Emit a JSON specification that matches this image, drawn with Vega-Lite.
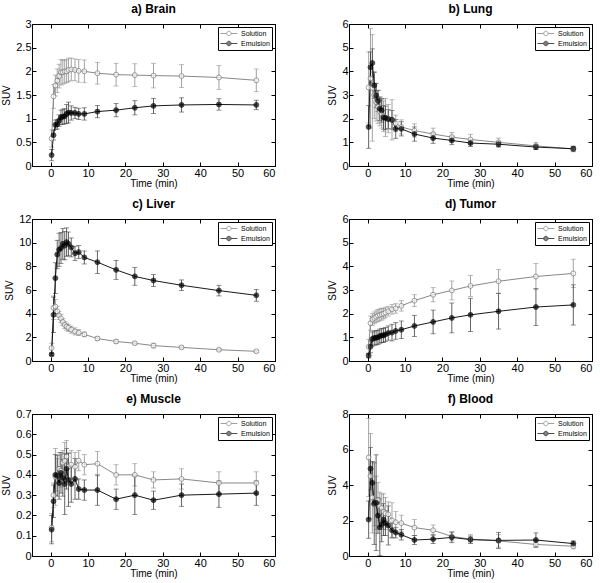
{
"$schema":"https://vega.github.io/schema/vega-lite/v6.json",
"padding":{"left":1,"top":2,"right":5,"bottom":2},
"background":"white",
"datasets":{"d":[
{"p":"a","s":"Solution","t":0.25,"y":0.58,"e":0.18},{"p":"a","s":"Solution","t":0.75,"y":1.47,"e":0.25},{"p":"a","s":"Solution","t":1.25,"y":1.7,"e":0.22},{"p":"a","s":"Solution","t":1.75,"y":1.8,"e":0.25},{"p":"a","s":"Solution","t":2.25,"y":1.9,"e":0.25},{"p":"a","s":"Solution","t":2.75,"y":1.98,"e":0.27},{"p":"a","s":"Solution","t":3.25,"y":1.98,"e":0.25},{"p":"a","s":"Solution","t":3.75,"y":2.0,"e":0.25},{"p":"a","s":"Solution","t":4.25,"y":2.0,"e":0.24},{"p":"a","s":"Solution","t":4.75,"y":2.03,"e":0.25},{"p":"a","s":"Solution","t":5.5,"y":2.04,"e":0.24},{"p":"a","s":"Solution","t":6.5,"y":2.03,"e":0.23},{"p":"a","s":"Solution","t":7.5,"y":2.01,"e":0.24},{"p":"a","s":"Solution","t":9,"y":2.0,"e":0.24},{"p":"a","s":"Solution","t":12.5,"y":1.96,"e":0.23},{"p":"a","s":"Solution","t":17.5,"y":1.93,"e":0.24},{"p":"a","s":"Solution","t":22.5,"y":1.92,"e":0.24},{"p":"a","s":"Solution","t":27.5,"y":1.91,"e":0.26},{"p":"a","s":"Solution","t":35,"y":1.9,"e":0.24},{"p":"a","s":"Solution","t":45,"y":1.87,"e":0.25},{"p":"a","s":"Solution","t":55,"y":1.81,"e":0.24},
{"p":"a","s":"Emulsion","t":0.25,"y":0.23,"e":0.12},{"p":"a","s":"Emulsion","t":0.75,"y":0.65,"e":0.1},{"p":"a","s":"Emulsion","t":1.25,"y":0.87,"e":0.1},{"p":"a","s":"Emulsion","t":1.75,"y":0.88,"e":0.1},{"p":"a","s":"Emulsion","t":2.25,"y":0.96,"e":0.12},{"p":"a","s":"Emulsion","t":2.75,"y":1.03,"e":0.15},{"p":"a","s":"Emulsion","t":3.25,"y":1.04,"e":0.16},{"p":"a","s":"Emulsion","t":3.75,"y":1.05,"e":0.16},{"p":"a","s":"Emulsion","t":4.25,"y":1.1,"e":0.2},{"p":"a","s":"Emulsion","t":4.75,"y":1.13,"e":0.22},{"p":"a","s":"Emulsion","t":5.5,"y":1.12,"e":0.15},{"p":"a","s":"Emulsion","t":6.5,"y":1.12,"e":0.12},{"p":"a","s":"Emulsion","t":7.5,"y":1.1,"e":0.12},{"p":"a","s":"Emulsion","t":9,"y":1.1,"e":0.13},{"p":"a","s":"Emulsion","t":12.5,"y":1.15,"e":0.13},{"p":"a","s":"Emulsion","t":17.5,"y":1.18,"e":0.14},{"p":"a","s":"Emulsion","t":22.5,"y":1.23,"e":0.15},{"p":"a","s":"Emulsion","t":27.5,"y":1.27,"e":0.16},{"p":"a","s":"Emulsion","t":35,"y":1.29,"e":0.15},{"p":"a","s":"Emulsion","t":45,"y":1.3,"e":0.12},{"p":"a","s":"Emulsion","t":55,"y":1.29,"e":0.1},
{"p":"b","s":"Solution","t":0.25,"y":3.32,"e":1.5},{"p":"b","s":"Solution","t":0.75,"y":3.7,"e":2.1},{"p":"b","s":"Solution","t":1.25,"y":3.3,"e":2.25},{"p":"b","s":"Solution","t":1.75,"y":3.0,"e":1.0},{"p":"b","s":"Solution","t":2.25,"y":2.7,"e":0.8},{"p":"b","s":"Solution","t":2.75,"y":2.5,"e":0.7},{"p":"b","s":"Solution","t":3.25,"y":2.3,"e":0.6},{"p":"b","s":"Solution","t":3.75,"y":2.2,"e":0.6},{"p":"b","s":"Solution","t":4.25,"y":2.1,"e":0.65},{"p":"b","s":"Solution","t":4.75,"y":2.05,"e":0.8},{"p":"b","s":"Solution","t":5.5,"y":2.0,"e":0.6},{"p":"b","s":"Solution","t":6.5,"y":1.95,"e":0.85},{"p":"b","s":"Solution","t":7.5,"y":1.8,"e":0.35},{"p":"b","s":"Solution","t":9,"y":1.65,"e":0.3},{"p":"b","s":"Solution","t":12.5,"y":1.5,"e":0.28},{"p":"b","s":"Solution","t":17.5,"y":1.35,"e":0.25},{"p":"b","s":"Solution","t":22.5,"y":1.22,"e":0.2},{"p":"b","s":"Solution","t":27.5,"y":1.12,"e":0.22},{"p":"b","s":"Solution","t":35,"y":1.0,"e":0.18},{"p":"b","s":"Solution","t":45,"y":0.85,"e":0.15},{"p":"b","s":"Solution","t":55,"y":0.72,"e":0.12},
{"p":"b","s":"Emulsion","t":0.25,"y":1.65,"e":0.9},{"p":"b","s":"Emulsion","t":0.75,"y":4.17,"e":0.65},{"p":"b","s":"Emulsion","t":1.25,"y":4.35,"e":0.6},{"p":"b","s":"Emulsion","t":1.75,"y":3.4,"e":0.55},{"p":"b","s":"Emulsion","t":2.25,"y":2.98,"e":0.5},{"p":"b","s":"Emulsion","t":2.75,"y":2.75,"e":0.45},{"p":"b","s":"Emulsion","t":3.25,"y":2.42,"e":0.5},{"p":"b","s":"Emulsion","t":3.75,"y":2.35,"e":0.5},{"p":"b","s":"Emulsion","t":4.25,"y":2.05,"e":0.5},{"p":"b","s":"Emulsion","t":4.75,"y":2.03,"e":0.5},{"p":"b","s":"Emulsion","t":5.5,"y":1.98,"e":0.4},{"p":"b","s":"Emulsion","t":6.5,"y":1.95,"e":0.4},{"p":"b","s":"Emulsion","t":7.5,"y":1.57,"e":0.4},{"p":"b","s":"Emulsion","t":9,"y":1.57,"e":0.3},{"p":"b","s":"Emulsion","t":12.5,"y":1.35,"e":0.3},{"p":"b","s":"Emulsion","t":17.5,"y":1.18,"e":0.22},{"p":"b","s":"Emulsion","t":22.5,"y":1.08,"e":0.18},{"p":"b","s":"Emulsion","t":27.5,"y":0.97,"e":0.15},{"p":"b","s":"Emulsion","t":35,"y":0.92,"e":0.12},{"p":"b","s":"Emulsion","t":45,"y":0.8,"e":0.1},{"p":"b","s":"Emulsion","t":55,"y":0.73,"e":0.1},
{"p":"c","s":"Solution","t":0.25,"y":1.1,"e":0.4},{"p":"c","s":"Solution","t":0.75,"y":4.5,"e":1.0},{"p":"c","s":"Solution","t":1.25,"y":4.6,"e":0.6},{"p":"c","s":"Solution","t":1.75,"y":4.2,"e":0.4},{"p":"c","s":"Solution","t":2.25,"y":3.85,"e":0.35},{"p":"c","s":"Solution","t":2.75,"y":3.6,"e":0.35},{"p":"c","s":"Solution","t":3.25,"y":3.3,"e":0.3},{"p":"c","s":"Solution","t":3.75,"y":3.05,"e":0.3},{"p":"c","s":"Solution","t":4.25,"y":2.9,"e":0.3},{"p":"c","s":"Solution","t":4.75,"y":2.8,"e":0.3},{"p":"c","s":"Solution","t":5.5,"y":2.65,"e":0.3},{"p":"c","s":"Solution","t":6.5,"y":2.5,"e":0.3},{"p":"c","s":"Solution","t":7.5,"y":2.4,"e":0.25},{"p":"c","s":"Solution","t":9,"y":2.25,"e":0.2},{"p":"c","s":"Solution","t":12.5,"y":1.9,"e":0.15},{"p":"c","s":"Solution","t":17.5,"y":1.65,"e":0.15},{"p":"c","s":"Solution","t":22.5,"y":1.5,"e":0.12},{"p":"c","s":"Solution","t":27.5,"y":1.3,"e":0.2},{"p":"c","s":"Solution","t":35,"y":1.15,"e":0.12},{"p":"c","s":"Solution","t":45,"y":0.95,"e":0.1},{"p":"c","s":"Solution","t":55,"y":0.82,"e":0.1},
{"p":"c","s":"Emulsion","t":0.25,"y":0.55,"e":0.1},{"p":"c","s":"Emulsion","t":0.75,"y":3.9,"e":1.5},{"p":"c","s":"Emulsion","t":1.25,"y":7.0,"e":1.3},{"p":"c","s":"Emulsion","t":1.75,"y":9.0,"e":1.2},{"p":"c","s":"Emulsion","t":2.25,"y":9.4,"e":1.4},{"p":"c","s":"Emulsion","t":2.75,"y":9.55,"e":1.3},{"p":"c","s":"Emulsion","t":3.25,"y":9.9,"e":1.3},{"p":"c","s":"Emulsion","t":3.75,"y":9.75,"e":1.2},{"p":"c","s":"Emulsion","t":4.25,"y":10.05,"e":1.2},{"p":"c","s":"Emulsion","t":4.75,"y":9.9,"e":1.0},{"p":"c","s":"Emulsion","t":5.5,"y":9.6,"e":0.8},{"p":"c","s":"Emulsion","t":6.5,"y":9.1,"e":0.6},{"p":"c","s":"Emulsion","t":7.5,"y":9.2,"e":0.55},{"p":"c","s":"Emulsion","t":9,"y":8.75,"e":0.55},{"p":"c","s":"Emulsion","t":12.5,"y":8.35,"e":0.95},{"p":"c","s":"Emulsion","t":17.5,"y":7.7,"e":0.8},{"p":"c","s":"Emulsion","t":22.5,"y":7.15,"e":0.75},{"p":"c","s":"Emulsion","t":27.5,"y":6.8,"e":0.5},{"p":"c","s":"Emulsion","t":35,"y":6.4,"e":0.45},{"p":"c","s":"Emulsion","t":45,"y":5.95,"e":0.45},{"p":"c","s":"Emulsion","t":55,"y":5.55,"e":0.5},
{"p":"d","s":"Solution","t":0.25,"y":0.6,"e":0.3},{"p":"d","s":"Solution","t":0.75,"y":1.6,"e":0.3},{"p":"d","s":"Solution","t":1.25,"y":1.75,"e":0.25},{"p":"d","s":"Solution","t":1.75,"y":1.82,"e":0.25},{"p":"d","s":"Solution","t":2.25,"y":1.87,"e":0.25},{"p":"d","s":"Solution","t":2.75,"y":1.92,"e":0.25},{"p":"d","s":"Solution","t":3.25,"y":1.95,"e":0.25},{"p":"d","s":"Solution","t":3.75,"y":1.98,"e":0.25},{"p":"d","s":"Solution","t":4.25,"y":2.0,"e":0.22},{"p":"d","s":"Solution","t":4.75,"y":2.05,"e":0.22},{"p":"d","s":"Solution","t":5.5,"y":2.1,"e":0.2},{"p":"d","s":"Solution","t":6.5,"y":2.18,"e":0.2},{"p":"d","s":"Solution","t":7.5,"y":2.22,"e":0.2},{"p":"d","s":"Solution","t":9,"y":2.33,"e":0.22},{"p":"d","s":"Solution","t":12.5,"y":2.55,"e":0.25},{"p":"d","s":"Solution","t":17.5,"y":2.8,"e":0.3},{"p":"d","s":"Solution","t":22.5,"y":2.98,"e":0.4},{"p":"d","s":"Solution","t":27.5,"y":3.17,"e":0.45},{"p":"d","s":"Solution","t":35,"y":3.37,"e":0.5},{"p":"d","s":"Solution","t":45,"y":3.57,"e":0.55},{"p":"d","s":"Solution","t":55,"y":3.7,"e":0.6},
{"p":"d","s":"Emulsion","t":0.25,"y":0.23,"e":0.1},{"p":"d","s":"Emulsion","t":0.75,"y":0.6,"e":0.25},{"p":"d","s":"Emulsion","t":1.25,"y":0.93,"e":0.3},{"p":"d","s":"Emulsion","t":1.75,"y":0.97,"e":0.3},{"p":"d","s":"Emulsion","t":2.25,"y":0.98,"e":0.3},{"p":"d","s":"Emulsion","t":2.75,"y":1.0,"e":0.3},{"p":"d","s":"Emulsion","t":3.25,"y":1.05,"e":0.3},{"p":"d","s":"Emulsion","t":3.75,"y":1.08,"e":0.3},{"p":"d","s":"Emulsion","t":4.25,"y":1.08,"e":0.3},{"p":"d","s":"Emulsion","t":4.75,"y":1.12,"e":0.3},{"p":"d","s":"Emulsion","t":5.5,"y":1.18,"e":0.3},{"p":"d","s":"Emulsion","t":6.5,"y":1.2,"e":0.35},{"p":"d","s":"Emulsion","t":7.5,"y":1.27,"e":0.35},{"p":"d","s":"Emulsion","t":9,"y":1.32,"e":0.37},{"p":"d","s":"Emulsion","t":12.5,"y":1.48,"e":0.45},{"p":"d","s":"Emulsion","t":17.5,"y":1.65,"e":0.5},{"p":"d","s":"Emulsion","t":22.5,"y":1.82,"e":0.63},{"p":"d","s":"Emulsion","t":27.5,"y":1.95,"e":0.7},{"p":"d","s":"Emulsion","t":35,"y":2.1,"e":0.75},{"p":"d","s":"Emulsion","t":45,"y":2.28,"e":0.78},{"p":"d","s":"Emulsion","t":55,"y":2.37,"e":0.85},
{"p":"e","s":"Solution","t":0.25,"y":0.14,"e":0.07},{"p":"e","s":"Solution","t":0.75,"y":0.3,"e":0.06},{"p":"e","s":"Solution","t":1.25,"y":0.39,"e":0.14},{"p":"e","s":"Solution","t":1.75,"y":0.4,"e":0.08},{"p":"e","s":"Solution","t":2.25,"y":0.43,"e":0.08},{"p":"e","s":"Solution","t":2.75,"y":0.42,"e":0.08},{"p":"e","s":"Solution","t":3.25,"y":0.46,"e":0.06},{"p":"e","s":"Solution","t":3.75,"y":0.47,"e":0.09},{"p":"e","s":"Solution","t":4.25,"y":0.49,"e":0.08},{"p":"e","s":"Solution","t":4.75,"y":0.44,"e":0.07},{"p":"e","s":"Solution","t":5.5,"y":0.45,"e":0.07},{"p":"e","s":"Solution","t":6.5,"y":0.44,"e":0.07},{"p":"e","s":"Solution","t":7.5,"y":0.47,"e":0.05},{"p":"e","s":"Solution","t":9,"y":0.45,"e":0.05},{"p":"e","s":"Solution","t":12.5,"y":0.455,"e":0.06},{"p":"e","s":"Solution","t":17.5,"y":0.4,"e":0.05},{"p":"e","s":"Solution","t":22.5,"y":0.4,"e":0.055},{"p":"e","s":"Solution","t":27.5,"y":0.375,"e":0.04},{"p":"e","s":"Solution","t":35,"y":0.38,"e":0.05},{"p":"e","s":"Solution","t":45,"y":0.36,"e":0.055},{"p":"e","s":"Solution","t":55,"y":0.36,"e":0.055},
{"p":"e","s":"Emulsion","t":0.25,"y":0.13,"e":0.07},{"p":"e","s":"Emulsion","t":0.75,"y":0.27,"e":0.08},{"p":"e","s":"Emulsion","t":1.25,"y":0.4,"e":0.1},{"p":"e","s":"Emulsion","t":1.75,"y":0.395,"e":0.1},{"p":"e","s":"Emulsion","t":2.25,"y":0.36,"e":0.08},{"p":"e","s":"Emulsion","t":2.75,"y":0.41,"e":0.1},{"p":"e","s":"Emulsion","t":3.25,"y":0.385,"e":0.09},{"p":"e","s":"Emulsion","t":3.75,"y":0.355,"e":0.15},{"p":"e","s":"Emulsion","t":4.25,"y":0.43,"e":0.1},{"p":"e","s":"Emulsion","t":4.75,"y":0.375,"e":0.13},{"p":"e","s":"Emulsion","t":5.5,"y":0.355,"e":0.09},{"p":"e","s":"Emulsion","t":6.5,"y":0.38,"e":0.1},{"p":"e","s":"Emulsion","t":7.5,"y":0.33,"e":0.05},{"p":"e","s":"Emulsion","t":9,"y":0.325,"e":0.05},{"p":"e","s":"Emulsion","t":12.5,"y":0.325,"e":0.075},{"p":"e","s":"Emulsion","t":17.5,"y":0.28,"e":0.05},{"p":"e","s":"Emulsion","t":22.5,"y":0.3,"e":0.095},{"p":"e","s":"Emulsion","t":27.5,"y":0.275,"e":0.045},{"p":"e","s":"Emulsion","t":35,"y":0.3,"e":0.055},{"p":"e","s":"Emulsion","t":45,"y":0.305,"e":0.065},{"p":"e","s":"Emulsion","t":55,"y":0.31,"e":0.06},
{"p":"f","s":"Solution","t":0.25,"y":5.55,"e":2.2},{"p":"f","s":"Solution","t":0.75,"y":4.5,"e":2.4},{"p":"f","s":"Solution","t":1.25,"y":3.3,"e":2.0},{"p":"f","s":"Solution","t":1.75,"y":2.9,"e":1.2},{"p":"f","s":"Solution","t":2.25,"y":3.0,"e":1.5},{"p":"f","s":"Solution","t":2.75,"y":3.15,"e":1.0},{"p":"f","s":"Solution","t":3.25,"y":2.8,"e":0.8},{"p":"f","s":"Solution","t":3.75,"y":2.7,"e":0.8},{"p":"f","s":"Solution","t":4.25,"y":2.5,"e":1.0},{"p":"f","s":"Solution","t":4.75,"y":2.4,"e":0.9},{"p":"f","s":"Solution","t":5.5,"y":2.35,"e":0.7},{"p":"f","s":"Solution","t":6.5,"y":2.0,"e":1.0},{"p":"f","s":"Solution","t":7.5,"y":1.9,"e":0.6},{"p":"f","s":"Solution","t":9,"y":1.85,"e":0.45},{"p":"f","s":"Solution","t":12.5,"y":1.6,"e":0.45},{"p":"f","s":"Solution","t":17.5,"y":1.45,"e":0.3},{"p":"f","s":"Solution","t":22.5,"y":1.1,"e":0.25},{"p":"f","s":"Solution","t":27.5,"y":0.95,"e":0.25},{"p":"f","s":"Solution","t":35,"y":0.85,"e":0.35},{"p":"f","s":"Solution","t":45,"y":0.65,"e":0.15},{"p":"f","s":"Solution","t":55,"y":0.55,"e":0.15},
{"p":"f","s":"Emulsion","t":0.25,"y":2.05,"e":1.05},{"p":"f","s":"Emulsion","t":0.75,"y":4.92,"e":1.2},{"p":"f","s":"Emulsion","t":1.25,"y":4.12,"e":1.2},{"p":"f","s":"Emulsion","t":1.75,"y":2.95,"e":2.3},{"p":"f","s":"Emulsion","t":2.25,"y":3.0,"e":2.7},{"p":"f","s":"Emulsion","t":2.75,"y":2.28,"e":1.0},{"p":"f","s":"Emulsion","t":3.25,"y":1.62,"e":1.6},{"p":"f","s":"Emulsion","t":3.75,"y":1.8,"e":1.0},{"p":"f","s":"Emulsion","t":4.25,"y":2.05,"e":0.9},{"p":"f","s":"Emulsion","t":4.75,"y":1.85,"e":0.7},{"p":"f","s":"Emulsion","t":5.5,"y":1.72,"e":1.1},{"p":"f","s":"Emulsion","t":6.5,"y":1.45,"e":0.4},{"p":"f","s":"Emulsion","t":7.5,"y":1.32,"e":0.3},{"p":"f","s":"Emulsion","t":9,"y":1.2,"e":0.3},{"p":"f","s":"Emulsion","t":12.5,"y":0.9,"e":0.25},{"p":"f","s":"Emulsion","t":17.5,"y":0.95,"e":0.25},{"p":"f","s":"Emulsion","t":22.5,"y":1.05,"e":0.3},{"p":"f","s":"Emulsion","t":27.5,"y":0.92,"e":0.2},{"p":"f","s":"Emulsion","t":35,"y":0.88,"e":0.45},{"p":"f","s":"Emulsion","t":45,"y":0.9,"e":0.4},{"p":"f","s":"Emulsion","t":55,"y":0.7,"e":0.15}
]},
"columns":2,
"spacing":{"row":8,"column":51},
"resolve":{"scale":{"color":"independent","stroke":"independent","fill":"independent"},"legend":{"color":"independent","stroke":"independent","fill":"independent"}},
"concat":[
{"title":"a) Brain","width":243,"height":142,"data":{"name":"d"},"transform":[{"filter":"datum.p=='a'"}],
 "resolve":{"axis":{"x":"independent","y":"independent"}},
 "encoding":{"x":{"field":"t","type":"quantitative","scale":{"domain":[-5,60],"nice":false},"axis":{"values":[0,10,20,30,40,50,60],"title":"Time (min)"}},
  "y":{"field":"y","type":"quantitative","scale":{"domain":[0,3],"nice":false},"axis":{"values":[0,0.5,1,1.5,2,2.5,3],"title":"SUV"}}},
 "layer":[
  {"mark":{"type":"errorbar","ticks":{"size":5},"thickness":0.8},"encoding":{"yError":{"field":"e"},"color":{"field":"s","type":"nominal","scale":{"range":["#3a3a3a","#8c8c8c"]},"legend":null}}},
  {"mark":{"type":"line","strokeWidth":0.9},"encoding":{"x":{"field":"t","type":"quantitative","scale":{"domain":[-5,60],"nice":false},"axis":{"orient":"top","values":[0,10,20,30,40,50,60],"labels":false,"title":null}},"y":{"field":"y","type":"quantitative","scale":{"domain":[0,3],"nice":false},"axis":{"orient":"right","values":[0,0.5,1,1.5,2,2.5,3],"labels":false,"title":null}},"stroke":{"field":"s","type":"nominal","scale":{"domain":["Solution","Emulsion"],"range":["#7a7a7a","#000000"]},"legend":{"title":null,"symbolType":"M-1,0H0.55M1.65,0H3.2M1.65,0A0.55,0.55,0,1,1,0.55,0A0.55,0.55,0,1,1,1.65,0Z"}}}},
  {"mark":{"type":"point","filled":true,"shape":"circle","size":24,"strokeWidth":1},"encoding":{"x":{"field":"t","type":"quantitative","axis":null},"y":{"field":"y","type":"quantitative","axis":null},"stroke":{"field":"s","type":"nominal","legend":{"title":null,"symbolType":"M-1,0H0.55M1.65,0H3.2M1.65,0A0.55,0.55,0,1,1,0.55,0A0.55,0.55,0,1,1,1.65,0Z"}},"fill":{"field":"s","type":"nominal","legend":{"title":null,"symbolType":"M-1,0H0.55M1.65,0H3.2M1.65,0A0.55,0.55,0,1,1,0.55,0A0.55,0.55,0,1,1,1.65,0Z"},"scale":{"domain":["Solution","Emulsion"],"range":["#ffffff","#000000"]}}}}
 ]},
{"title":"b) Lung","width":243,"height":142,"data":{"name":"d"},"transform":[{"filter":"datum.p=='b'"}],
 "resolve":{"axis":{"x":"independent","y":"independent"}},
 "encoding":{"x":{"field":"t","type":"quantitative","scale":{"domain":[-5,60],"nice":false},"axis":{"values":[0,10,20,30,40,50,60],"title":"Time (min)"}},
  "y":{"field":"y","type":"quantitative","scale":{"domain":[0,6],"nice":false},"axis":{"values":[0,1,2,3,4,5,6],"title":"SUV"}}},
 "layer":[
  {"mark":{"type":"errorbar","ticks":{"size":5},"thickness":0.8},"encoding":{"yError":{"field":"e"},"color":{"field":"s","type":"nominal","scale":{"range":["#3a3a3a","#8c8c8c"]},"legend":null}}},
  {"mark":{"type":"line","strokeWidth":0.9},"encoding":{"x":{"field":"t","type":"quantitative","scale":{"domain":[-5,60],"nice":false},"axis":{"orient":"top","values":[0,10,20,30,40,50,60],"labels":false,"title":null}},"y":{"field":"y","type":"quantitative","scale":{"domain":[0,6],"nice":false},"axis":{"orient":"right","values":[0,1,2,3,4,5,6],"labels":false,"title":null}},"stroke":{"field":"s","type":"nominal","scale":{"domain":["Solution","Emulsion"],"range":["#7a7a7a","#000000"]},"legend":{"title":null,"symbolType":"M-1,0H0.55M1.65,0H3.2M1.65,0A0.55,0.55,0,1,1,0.55,0A0.55,0.55,0,1,1,1.65,0Z"}}}},
  {"mark":{"type":"point","filled":true,"shape":"circle","size":24,"strokeWidth":1},"encoding":{"x":{"field":"t","type":"quantitative","axis":null},"y":{"field":"y","type":"quantitative","axis":null},"stroke":{"field":"s","type":"nominal","legend":{"title":null,"symbolType":"M-1,0H0.55M1.65,0H3.2M1.65,0A0.55,0.55,0,1,1,0.55,0A0.55,0.55,0,1,1,1.65,0Z"}},"fill":{"field":"s","type":"nominal","legend":{"title":null,"symbolType":"M-1,0H0.55M1.65,0H3.2M1.65,0A0.55,0.55,0,1,1,0.55,0A0.55,0.55,0,1,1,1.65,0Z"},"scale":{"domain":["Solution","Emulsion"],"range":["#ffffff","#000000"]}}}}
 ]},
{"title":"c) Liver","width":243,"height":142,"data":{"name":"d"},"transform":[{"filter":"datum.p=='c'"}],
 "resolve":{"axis":{"x":"independent","y":"independent"}},
 "encoding":{"x":{"field":"t","type":"quantitative","scale":{"domain":[-5,60],"nice":false},"axis":{"values":[0,10,20,30,40,50,60],"title":"Time (min)"}},
  "y":{"field":"y","type":"quantitative","scale":{"domain":[0,12],"nice":false},"axis":{"values":[0,2,4,6,8,10,12],"title":"SUV"}}},
 "layer":[
  {"mark":{"type":"errorbar","ticks":{"size":5},"thickness":0.8},"encoding":{"yError":{"field":"e"},"color":{"field":"s","type":"nominal","scale":{"range":["#3a3a3a","#8c8c8c"]},"legend":null}}},
  {"mark":{"type":"line","strokeWidth":0.9},"encoding":{"x":{"field":"t","type":"quantitative","scale":{"domain":[-5,60],"nice":false},"axis":{"orient":"top","values":[0,10,20,30,40,50,60],"labels":false,"title":null}},"y":{"field":"y","type":"quantitative","scale":{"domain":[0,12],"nice":false},"axis":{"orient":"right","values":[0,2,4,6,8,10,12],"labels":false,"title":null}},"stroke":{"field":"s","type":"nominal","scale":{"domain":["Solution","Emulsion"],"range":["#7a7a7a","#000000"]},"legend":{"title":null,"symbolType":"M-1,0H0.55M1.65,0H3.2M1.65,0A0.55,0.55,0,1,1,0.55,0A0.55,0.55,0,1,1,1.65,0Z"}}}},
  {"mark":{"type":"point","filled":true,"shape":"circle","size":24,"strokeWidth":1},"encoding":{"x":{"field":"t","type":"quantitative","axis":null},"y":{"field":"y","type":"quantitative","axis":null},"stroke":{"field":"s","type":"nominal","legend":{"title":null,"symbolType":"M-1,0H0.55M1.65,0H3.2M1.65,0A0.55,0.55,0,1,1,0.55,0A0.55,0.55,0,1,1,1.65,0Z"}},"fill":{"field":"s","type":"nominal","legend":{"title":null,"symbolType":"M-1,0H0.55M1.65,0H3.2M1.65,0A0.55,0.55,0,1,1,0.55,0A0.55,0.55,0,1,1,1.65,0Z"},"scale":{"domain":["Solution","Emulsion"],"range":["#ffffff","#000000"]}}}}
 ]},
{"title":"d) Tumor","width":243,"height":142,"data":{"name":"d"},"transform":[{"filter":"datum.p=='d'"}],
 "resolve":{"axis":{"x":"independent","y":"independent"}},
 "encoding":{"x":{"field":"t","type":"quantitative","scale":{"domain":[-5,60],"nice":false},"axis":{"values":[0,10,20,30,40,50,60],"title":"Time (min)"}},
  "y":{"field":"y","type":"quantitative","scale":{"domain":[0,6],"nice":false},"axis":{"values":[0,1,2,3,4,5,6],"title":"SUV"}}},
 "layer":[
  {"mark":{"type":"errorbar","ticks":{"size":5},"thickness":0.8},"encoding":{"yError":{"field":"e"},"color":{"field":"s","type":"nominal","scale":{"range":["#3a3a3a","#8c8c8c"]},"legend":null}}},
  {"mark":{"type":"line","strokeWidth":0.9},"encoding":{"x":{"field":"t","type":"quantitative","scale":{"domain":[-5,60],"nice":false},"axis":{"orient":"top","values":[0,10,20,30,40,50,60],"labels":false,"title":null}},"y":{"field":"y","type":"quantitative","scale":{"domain":[0,6],"nice":false},"axis":{"orient":"right","values":[0,1,2,3,4,5,6],"labels":false,"title":null}},"stroke":{"field":"s","type":"nominal","scale":{"domain":["Solution","Emulsion"],"range":["#7a7a7a","#000000"]},"legend":{"title":null,"symbolType":"M-1,0H0.55M1.65,0H3.2M1.65,0A0.55,0.55,0,1,1,0.55,0A0.55,0.55,0,1,1,1.65,0Z"}}}},
  {"mark":{"type":"point","filled":true,"shape":"circle","size":24,"strokeWidth":1},"encoding":{"x":{"field":"t","type":"quantitative","axis":null},"y":{"field":"y","type":"quantitative","axis":null},"stroke":{"field":"s","type":"nominal","legend":{"title":null,"symbolType":"M-1,0H0.55M1.65,0H3.2M1.65,0A0.55,0.55,0,1,1,0.55,0A0.55,0.55,0,1,1,1.65,0Z"}},"fill":{"field":"s","type":"nominal","legend":{"title":null,"symbolType":"M-1,0H0.55M1.65,0H3.2M1.65,0A0.55,0.55,0,1,1,0.55,0A0.55,0.55,0,1,1,1.65,0Z"},"scale":{"domain":["Solution","Emulsion"],"range":["#ffffff","#000000"]}}}}
 ]},
{"title":"e) Muscle","width":243,"height":142,"data":{"name":"d"},"transform":[{"filter":"datum.p=='e'"}],
 "resolve":{"axis":{"x":"independent","y":"independent"}},
 "encoding":{"x":{"field":"t","type":"quantitative","scale":{"domain":[-5,60],"nice":false},"axis":{"values":[0,10,20,30,40,50,60],"title":"Time (min)"}},
  "y":{"field":"y","type":"quantitative","scale":{"domain":[0,0.7],"nice":false},"axis":{"values":[0,0.1,0.2,0.3,0.4,0.5,0.6,0.7],"title":"SUV"}}},
 "layer":[
  {"mark":{"type":"errorbar","ticks":{"size":5},"thickness":0.8},"encoding":{"yError":{"field":"e"},"color":{"field":"s","type":"nominal","scale":{"range":["#3a3a3a","#8c8c8c"]},"legend":null}}},
  {"mark":{"type":"line","strokeWidth":0.9},"encoding":{"x":{"field":"t","type":"quantitative","scale":{"domain":[-5,60],"nice":false},"axis":{"orient":"top","values":[0,10,20,30,40,50,60],"labels":false,"title":null}},"y":{"field":"y","type":"quantitative","scale":{"domain":[0,0.7],"nice":false},"axis":{"orient":"right","values":[0,0.1,0.2,0.3,0.4,0.5,0.6,0.7],"labels":false,"title":null}},"stroke":{"field":"s","type":"nominal","scale":{"domain":["Solution","Emulsion"],"range":["#7a7a7a","#000000"]},"legend":{"title":null,"symbolType":"M-1,0H0.55M1.65,0H3.2M1.65,0A0.55,0.55,0,1,1,0.55,0A0.55,0.55,0,1,1,1.65,0Z"}}}},
  {"mark":{"type":"point","filled":true,"shape":"circle","size":24,"strokeWidth":1},"encoding":{"x":{"field":"t","type":"quantitative","axis":null},"y":{"field":"y","type":"quantitative","axis":null},"stroke":{"field":"s","type":"nominal","legend":{"title":null,"symbolType":"M-1,0H0.55M1.65,0H3.2M1.65,0A0.55,0.55,0,1,1,0.55,0A0.55,0.55,0,1,1,1.65,0Z"}},"fill":{"field":"s","type":"nominal","legend":{"title":null,"symbolType":"M-1,0H0.55M1.65,0H3.2M1.65,0A0.55,0.55,0,1,1,0.55,0A0.55,0.55,0,1,1,1.65,0Z"},"scale":{"domain":["Solution","Emulsion"],"range":["#ffffff","#000000"]}}}}
 ]},
{"title":"f) Blood","width":243,"height":142,"data":{"name":"d"},"transform":[{"filter":"datum.p=='f'"}],
 "resolve":{"axis":{"x":"independent","y":"independent"}},
 "encoding":{"x":{"field":"t","type":"quantitative","scale":{"domain":[-5,60],"nice":false},"axis":{"values":[0,10,20,30,40,50,60],"title":"Time (min)"}},
  "y":{"field":"y","type":"quantitative","scale":{"domain":[0,8],"nice":false},"axis":{"values":[0,2,4,6,8],"title":"SUV"}}},
 "layer":[
  {"mark":{"type":"errorbar","ticks":{"size":5},"thickness":0.8},"encoding":{"yError":{"field":"e"},"color":{"field":"s","type":"nominal","scale":{"range":["#3a3a3a","#8c8c8c"]},"legend":null}}},
  {"mark":{"type":"line","strokeWidth":0.9},"encoding":{"x":{"field":"t","type":"quantitative","scale":{"domain":[-5,60],"nice":false},"axis":{"orient":"top","values":[0,10,20,30,40,50,60],"labels":false,"title":null}},"y":{"field":"y","type":"quantitative","scale":{"domain":[0,8],"nice":false},"axis":{"orient":"right","values":[0,2,4,6,8],"labels":false,"title":null}},"stroke":{"field":"s","type":"nominal","scale":{"domain":["Solution","Emulsion"],"range":["#7a7a7a","#000000"]},"legend":{"title":null,"symbolType":"M-1,0H0.55M1.65,0H3.2M1.65,0A0.55,0.55,0,1,1,0.55,0A0.55,0.55,0,1,1,1.65,0Z"}}}},
  {"mark":{"type":"point","filled":true,"shape":"circle","size":24,"strokeWidth":1},"encoding":{"x":{"field":"t","type":"quantitative","axis":null},"y":{"field":"y","type":"quantitative","axis":null},"stroke":{"field":"s","type":"nominal","legend":{"title":null,"symbolType":"M-1,0H0.55M1.65,0H3.2M1.65,0A0.55,0.55,0,1,1,0.55,0A0.55,0.55,0,1,1,1.65,0Z"}},"fill":{"field":"s","type":"nominal","legend":{"title":null,"symbolType":"M-1,0H0.55M1.65,0H3.2M1.65,0A0.55,0.55,0,1,1,0.55,0A0.55,0.55,0,1,1,1.65,0Z"},"scale":{"domain":["Solution","Emulsion"],"range":["#ffffff","#000000"]}}}}
 ]}
],
"config":{
 "font":"Liberation Sans",
 "view":{"stroke":"black","strokeWidth":1},
 "title":{"font":"Liberation Sans","fontSize":12,"fontWeight":"bold","offset":2,"anchor":"middle","color":"black"},
 "axis":{"labelFont":"Liberation Sans","labelFontSize":11,"labelColor":"black","titleFont":"Liberation Sans","titleFontSize":10,"titleFontWeight":"normal","titleColor":"black","grid":false,"domainColor":"black","domainWidth":1,"tickColor":"black","tickSize":-4,"labelPadding":5},
 "axisX":{"titlePadding":0},
 "axisY":{"titlePadding":4,"format":"~r"},
 "legend":{"orient":"top-right","offset":3,"strokeColor":"black","fillColor":"white","padding":2,"labelFont":"Liberation Sans","labelFontSize":7,"labelColor":"black","symbolSize":64,"symbolStrokeWidth":1,"rowPadding":1,"labelOffset":12}
}
}
